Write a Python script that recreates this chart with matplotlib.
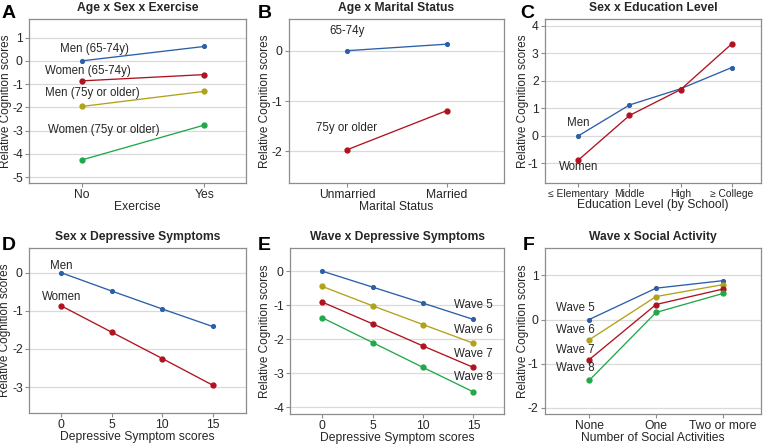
import matplotlib
matplotlib.use("Agg")
import matplotlib.pyplot as plt

plt.rcParams['font.family'] = ['Liberation Sans', 'DejaVu Sans']
plt.rcParams['axes.unicode_minus'] = False

# ---------------- data ----------------
exercise_cats = ["No", "Yes"]
men_65_74 = [0.0, 0.62]
women_65_74 = [-0.86, -0.59]
men_75 = [-1.96, -1.31]
women_75 = [-4.26, -2.76]

marital_cats = ["Unmarried", "Married"]
age_65_74 = [0.0, 0.13]
age_75 = [-1.97, -1.19]

edu_cats = ["\u2264 Elementary", "Middle", "High", "\u2265 College"]
edu_men = [0.0, 1.12, 1.71, 2.48]
edu_women = [-0.88, 0.74, 1.68, 3.34]

dep_scores = [0, 5, 10, 15]
dep_men = [0.0, -0.48, -0.95, -1.41]
dep_women = [-0.87, -1.56, -2.25, -2.95]

wave_dep_5 = [0.0, -0.47, -0.94, -1.42]
wave_dep_6 = [-0.45, -1.02, -1.57, -2.12]
wave_dep_7 = [-0.91, -1.55, -2.20, -2.83]
wave_dep_8 = [-1.37, -2.10, -2.83, -3.55]

social_cats = ["None", "One", "Two or more"]
wave_soc_5 = [0.0, 0.71, 0.88]
wave_soc_6 = [-0.46, 0.52, 0.79]
wave_soc_7 = [-0.91, 0.34, 0.69]
wave_soc_8 = [-1.38, 0.16, 0.59]

BLUE = "#2b5fa8"
RED = "#b0121f"
YEL = "#b0a21a"
GRN = "#20a84a"
TXT = "#262626"
EDGE = "#8c8c8c"
GRID = "#dadada"

W, H = 767, 444
fig = plt.figure(figsize=(W / 100, H / 100), dpi=100)


def make_ax(l, r, t, b):
    return fig.add_axes([l / W, 1 - b / H, (r - l) / W, (b - t) / H])


def letter(s, x, y):
    fig.text(x / W, 1 - y / H, s, fontsize=14, fontweight="bold",
             color="black", ha="center", va="center")


def style(ax, title, xlabel, yticks, ylim, xlim, ylab_x):
    ax.set_ylim(*ylim)
    ax.set_xlim(*xlim)
    ax.set_yticks(yticks)
    ax.yaxis.grid(True, color=GRID, lw=0.9)
    ax.set_axisbelow(True)
    for s in ax.spines.values():
        s.set_color(EDGE)
        s.set_linewidth(0.9)
    ax.tick_params(colors=EDGE, labelcolor=TXT, labelsize=8.7, length=3,
                   width=0.8, pad=1.5)
    ax.set_title(title, fontsize=8.7, fontweight="bold", color=TXT, pad=6)
    ax.set_xlabel(xlabel, fontsize=8.7, color=TXT, labelpad=0)
    ax.set_ylabel("Relative Cognition scores", fontsize=8.5, color=TXT)
    ax.yaxis.set_label_coords(ylab_x, 0.5)


def line(ax, x, y, c, small=False):
    ax.plot(x, y, color=c, lw=0.95, marker="o", ms=2.7 if small else 3.5,
            zorder=3)


def lab(ax, x, y, s, ha="center"):
    ax.text(x, y, s, fontsize=8.3, color=TXT, ha=ha, va="center")


# A
ax = make_ax(29, 246, 19, 183)
xa = range(len(exercise_cats))
line(ax, xa, men_65_74, BLUE, True)
line(ax, xa, women_65_74, RED)
line(ax, xa, men_75, YEL)
line(ax, xa, women_75, GRN)
ax.set_xticks(list(xa))
ax.set_xticklabels(exercise_cats)
style(ax, "Age x Sex x Exercise", "Exercise", [1, 0, -1, -2, -3, -4, -5],
      (-5.25, 1.8), (-0.43, 1.34), -0.078)
lab(ax, 0.10, 0.53, "Men (65-74y)")
lab(ax, 0.05, -0.43, "Women (65-74y)")
lab(ax, 0.09, -1.36, "Men (75y or older)")
lab(ax, 0.18, -2.96, "Women (75y or older)")
letter("A", 9, 13)

# B
ax = make_ax(289, 504, 19, 183)
xb = range(len(marital_cats))
line(ax, xb, age_65_74, BLUE, True)
line(ax, xb, age_75, RED)
ax.set_xticks(list(xb))
ax.set_xticklabels(marital_cats)
style(ax, "Age x Marital Status", "Marital Status", [0, -1, -2],
      (-2.63, 0.63), (-0.58, 1.57), -0.084)
lab(ax, 0.0, 0.39, "65-74y")
lab(ax, 0.0, -1.53, "75y or older")
letter("B", 265, 13)

# C
ax = make_ax(545, 761, 19, 183)
xc = range(len(edu_cats))
line(ax, xc, edu_men, BLUE, True)
line(ax, xc, edu_women, RED)
ax.set_xticks(list(xc))
ax.set_xticklabels(edu_cats)
style(ax, "Sex x Education Level", "Education Level (by School)",
      [4, 3, 2, 1, 0, -1], (-1.71, 4.24), (-0.65, 3.57), -0.074)
ax.tick_params(axis="x", labelsize=7.4)
lab(ax, 0.0, 0.46, "Men")
lab(ax, 0.0, -1.12, "Women")
letter("C", 527, 13)

# D
ax = make_ax(29, 246, 248, 413)
line(ax, dep_scores, dep_men, BLUE, True)
line(ax, dep_scores, dep_women, RED)
ax.set_xticks(dep_scores)
style(ax, "Sex x Depressive Symptoms", "Depressive Symptom scores",
      [0, -1, -2, -3], (-3.68, 0.65), (-3.2, 18.3), -0.083)
lab(ax, 0.0, 0.17, "Men")
lab(ax, 0.0, -0.63, "Women")
letter("D", 9, 245)

# E
ax = make_ax(290, 504, 248, 414)
line(ax, dep_scores, wave_dep_5, BLUE, True)
line(ax, dep_scores, wave_dep_6, YEL)
line(ax, dep_scores, wave_dep_7, RED)
line(ax, dep_scores, wave_dep_8, GRN)
ax.set_xticks(dep_scores)
style(ax, "Wave x Depressive Symptoms", "Depressive Symptom scores",
      [0, -1, -2, -3, -4], (-4.2, 0.68), (-3.2, 18.04), -0.089)
lab(ax, 15.0, -1.01, "Wave 5")
lab(ax, 15.0, -1.72, "Wave 6")
lab(ax, 15.0, -2.43, "Wave 7")
lab(ax, 15.0, -3.12, "Wave 8")
letter("E", 264, 245)

# F
ax = make_ax(545, 761, 248, 414)
xf = range(len(social_cats))
line(ax, xf, wave_soc_5, BLUE, True)
line(ax, xf, wave_soc_6, YEL)
line(ax, xf, wave_soc_7, RED)
line(ax, xf, wave_soc_8, GRN)
ax.set_xticks(list(xf))
ax.set_xticklabels(social_cats)
style(ax, "Wave x Social Activity", "Number of Social Activities",
      [1, 0, -1, -2], (-2.14, 1.62), (-0.66, 2.57), -0.074)
lab(ax, -0.2, 0.27, "Wave 5")
lab(ax, -0.2, -0.23, "Wave 6")
lab(ax, -0.2, -0.70, "Wave 7")
lab(ax, -0.2, -1.10, "Wave 8")
letter("F", 529, 245)

fig.savefig("out.png", dpi=100)
